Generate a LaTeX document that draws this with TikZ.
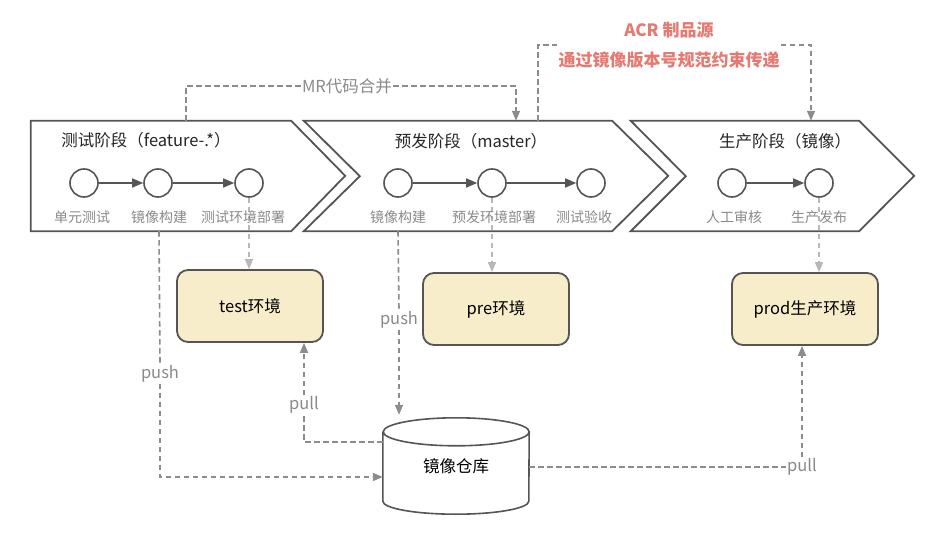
\documentclass[tikz,border=0pt]{standalone}
\usepackage{fontspec}
\setmainfont{Noto Sans CJK SC}
\usetikzlibrary{arrows.meta}
\definecolor{edgec}{HTML}{555555}
\definecolor{dashc}{HTML}{8C8C8C}
\definecolor{dashl}{HTML}{B8B8B8}
\definecolor{envfill}{HTML}{F7EDCB}
\definecolor{acrred}{HTML}{E57A72}
\definecolor{lblc}{HTML}{8A8A8A}
\begin{document}
\begin{tikzpicture}[x=1pt, y=-1pt, >={Triangle[length=10pt,width=8pt]},
    stagebox/.style={minimum height=110, inner sep=0},
    chev/.style={draw=edgec, line width=1.8pt, line join=miter},
    title/.style={font=\fontsize{16.5}{19}\selectfont, text=black!85},
    dot/.style={circle, draw=edgec, line width=1.6pt, fill=white, minimum size=28, inner sep=0},
    steplbl/.style={font=\fontsize{14}{16}\selectfont, text=lblc},
    flow/.style={->, draw=edgec, line width=1.5pt, >={Triangle[length=11pt,width=9pt]}},
    env/.style={draw=edgec, line width=1.8pt, fill=envfill, rounded corners=11pt,
        minimum width=146, minimum height=72, font=\fontsize{16.5}{19}\selectfont},
    dline/.style={draw=dashc, line width=1.6pt, dash pattern=on 5.5pt off 3.5pt, color=dashc},
    lline/.style={draw=dashl, line width=1.6pt, dash pattern=on 5.5pt off 3.5pt, color=dashl},
    wlbl/.style={font=\fontsize{16.5}{19}\selectfont, text=lblc, fill=white, inner sep=1pt}
]
\fill[white] (0,0) rectangle (936,534);

\node[stagebox, minimum width=260] (stage1) at (161,176) {};
\node[stagebox, minimum width=308] (stage2) at (458,176) {};
\node[stagebox, minimum width=228] (stage3) at (745,176) {};

\draw[chev] (stage1.north west) -- (stage1.north east) -- ++(54,55)
    -- (stage1.south east) -- (stage1.south west) -- cycle;
\draw[chev] (stage2.north west) -- (stage2.north east) -- ++(56,55)
    -- (stage2.south east) -- (stage2.south west) -- ++(56,-55) -- cycle;
\draw[chev] (stage3.north west) -- (stage3.north east) -- ++(55,55)
    -- (stage3.south east) -- (stage3.south west) -- ++(55,-55) -- cycle;

\node[title] (t1) at (146,140) {测试阶段（feature-.*）};
\node[title] (t2) at (471,141) {预发阶段（master）};
\node[title] (t3) at (785,141) {生产阶段（镜像）};

\node[env] (test) at (250,306) {test环境};
\node[env] (pre) at (496,309) {pre环境};
\node[env] (prod) at (805,309) {prod生产环境};

% image repository (cylinder)
\node[minimum width=146, minimum height=97, inner sep=0,
    font=\fontsize{16.5}{19}\selectfont] (repo) at (456,466.5) {\raisebox{-10pt}{镜像仓库}};
\draw[draw=edgec, line width=1.6pt]
    ([yshift=-14pt]repo.north west) -- ([yshift=14pt]repo.south west)
    arc[start angle=180, end angle=360, x radius=73pt, y radius=13pt]
    -- ([yshift=-14pt]repo.north east)
    arc[start angle=0, end angle=180, x radius=73pt, y radius=14pt]
    arc[start angle=180, end angle=360, x radius=73pt, y radius=14pt];

% stage circles
\node[dot] (a1) at (84,183) {};
\node[dot] (a2) at (158,183) {};
\node[dot] (a3) at (249,183) {};
\node[dot] (b1) at (398,183) {};
\node[dot] (b2) at (492,183) {};
\node[dot] (b3) at (591,183) {};
\node[dot] (c1) at (732,183) {};
\node[dot] (c2) at (819,183) {};

\draw[flow] (a1) -- (a2);
\draw[flow] (a2) -- (a3);
\draw[flow] (b1) -- (b2);
\draw[flow] (b2) -- (b3);
\draw[flow] (c1) -- (c2);

\draw[lline, ->] (a3.south) -- (a3.south |- test.north);
\draw[lline, ->] (b2.south) -- (b2.south |- pre.north);
\draw[lline, ->] (c2.south) -- (c2.south |- prod.north);

\node[steplbl] (l1) at (82,217) {单元测试};
\node[steplbl] (l2) at (159,217) {镜像构建};
\node[steplbl] (l3) at (243,217) {测试环境部署};
\node[steplbl] (l4) at (398,217) {镜像构建};
\node[steplbl] (l5) at (494,217) {预发环境部署};
\node[steplbl] (l6) at (584,217) {测试验收};
\node[steplbl] (l7) at (734,217) {人工审核};
\node[steplbl] (l8) at (819,217) {生产发布};

% merge and artifact flow
\node[wlbl] (mr) at (347,86) {MR代码合并};
\draw[dline] ([xshift=25pt]stage1.north) |- (mr.west);
\draw[dline, ->] (mr.east) -| ([xshift=58pt]stage2.north);

\node[font=\bfseries\fontsize{17}{30}\selectfont, text=acrred, fill=white, align=center,
    inner xsep=1pt, inner ysep=0pt] (acr) at (669,45) {ACR 制品源\\通过镜像版本号规范约束传递};
\draw[dline] ([xshift=80pt]stage2.north) |- (acr.west);
\draw[dline, ->] (acr.east) -| ([xshift=66pt]stage3.north);

% push / pull
\node[wlbl] (push1) at (160,374) {push};
\draw[dline] ([xshift=-2pt]stage1.south) -- (push1.north);
\draw[dline, ->] (push1.south) |- ([yshift=-10.5pt]repo.west);

\node[wlbl] (push2) at (399,320) {push};
\draw[dline] ([xshift=-60pt]stage2.south) -- (push2.north);
\draw[dline, ->] (push2.south) -- ([yshift=3pt]push2.south |- repo.north);

\node[wlbl] (pull1) at (304,405) {pull};
\draw[dline] ([yshift=24.5pt]repo.west) -| (pull1.south);
\draw[dline, ->] (pull1.north) -- (pull1.north |- test.south);

\node[wlbl] (pull2) at (802,467) {pull};
\draw[dline] (repo.east |- pull2.west) -- (pull2.west);
\draw[dline, ->] (pull2.north) -- (pull2.north |- prod.south);
\end{tikzpicture}
\end{document}
